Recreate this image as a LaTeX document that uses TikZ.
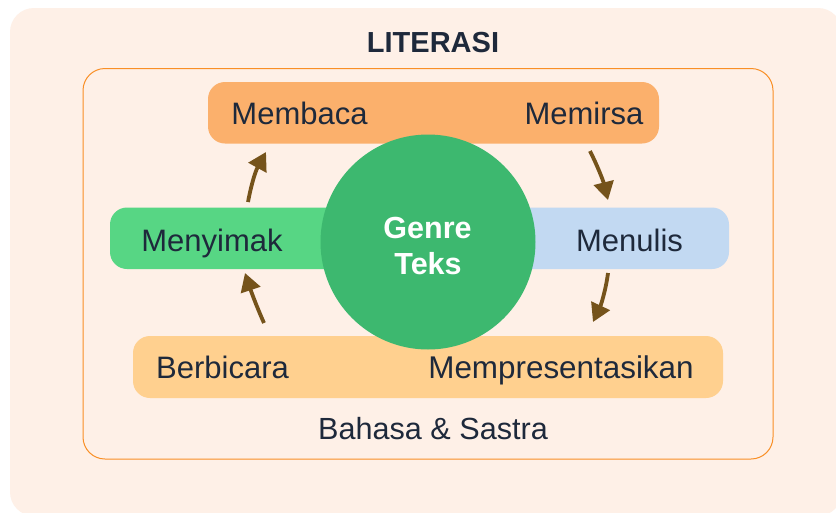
\documentclass[tikz,border=0pt]{standalone}
\usepackage{fontspec}
\setmainfont{Liberation Sans}
\usetikzlibrary{arrows.meta}
\definecolor{panelbg}{HTML}{FEF0E7}
\definecolor{frameline}{HTML}{F98F26}
\definecolor{readbox}{HTML}{FBB06C}
\definecolor{listenbox}{HTML}{57D684}
\definecolor{writebox}{HTML}{C2D9F2}
\definecolor{speakbox}{HTML}{FFD08F}
\definecolor{hub}{HTML}{3DB86F}
\definecolor{flow}{HTML}{75531B}
\definecolor{ink}{HTML}{1E293B}
\tikzset{
  x=1pt,y=-1pt,
  pill/.style={rounded corners=17pt},
  lab/.style={text=ink,font=\fontsize{31}{36}\selectfont,inner sep=0pt,anchor=base},
  flowarrow/.style={draw=flow,line width=3.8pt,-{Triangle[length=18pt,width=20pt]}}
}
\begin{document}
\begin{tikzpicture}
\useasboundingbox (0,0) rectangle (836,512);
\fill[white] (0,0) rectangle (836,512);
\fill[panelbg,rounded corners=24pt] (10,8) rectangle (842,516);
\draw[frameline,line width=1pt,rounded corners=22pt] (83,68.5) rectangle (773,459);
\node[lab,font=\fontsize{29}{36}\selectfont\bfseries] (title) at (433,52) {LITERASI};
\fill[readbox,pill] (208,82) rectangle (659,143.5);
\fill[listenbox,pill] (110,207.5) rectangle (360,269);
\fill[writebox,pill] (500,207.5) rectangle (729,269);
\fill[speakbox,pill] (133,336) rectangle (723,398);
\node[circle,fill=hub,minimum size=215pt,inner sep=0pt] (genre) at (428,242) {};
\node[lab,text=white,font=\fontsize{30.5}{36}\selectfont\bfseries] (genreword) at (427.5,238) {Genre};
\node[lab,text=white,font=\fontsize{30.5}{36}\selectfont\bfseries] (teksword) at (428,274) {Teks};
\node[lab] (membaca) at (299.5,124) {Membaca};
\node[lab] (memirsa) at (584,124) {Memirsa};
\node[lab] (menyimak) at (212,251) {Menyimak};
\node[lab] (menulis) at (629.5,251) {Menulis};
\node[lab] (berbicara) at (222.5,378) {Berbicara};
\node[lab,font=\fontsize{31.4}{36}\selectfont] (mempres) at (561,378) {Mempresentasikan};
\node[lab,font=\fontsize{30.6}{36}\selectfont] (bahasa) at (433,439) {Bahasa \& Sastra};
\coordinate (a1s) at (248,202);
\coordinate (a1e) at (266,152);
\coordinate (a2s) at (590,151);
\coordinate (a2e) at (608,200);
\coordinate (a3s) at (608,273);
\coordinate (a3e) at (593,322);
\coordinate (a4s) at (264,323);
\coordinate (a4e) at (245,273);
\draw[flowarrow] (a1s) .. controls (251,186) and (255,172) .. (a1e);
\draw[flowarrow] (a2s) .. controls (597,165) and (603,180) .. (a2e);
\draw[flowarrow] (a3s) .. controls (606,289) and (601,305) .. (a3e);
\draw[flowarrow] (a4s) .. controls (256,305) and (251,291) .. (a4e);
\end{tikzpicture}
\end{document}
